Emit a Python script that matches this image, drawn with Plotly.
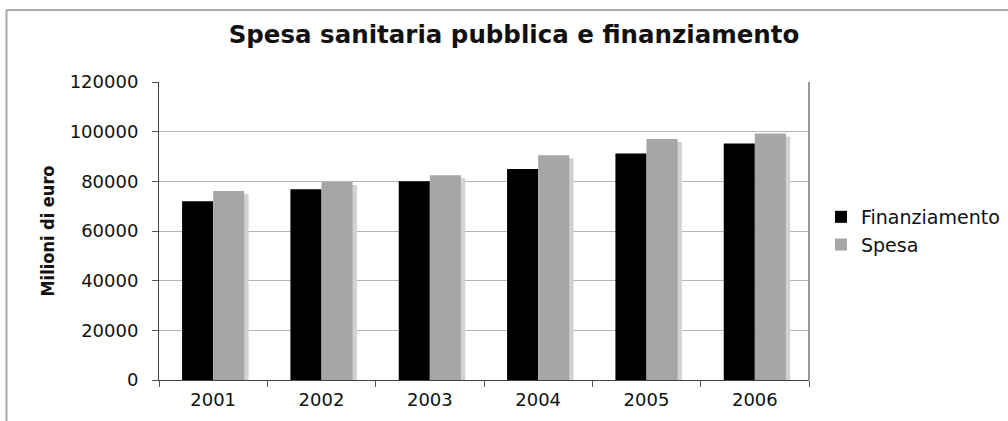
import plotly.graph_objects as go

# Spesa sanitaria pubblica e finanziamento (milioni di euro)
anni = ["2001", "2002", "2003", "2004", "2005", "2006"]
finanziamento = [72000, 76800, 80000, 85000, 91200, 95200]
spesa = [76100, 79700, 82400, 90500, 97000, 99300]
y_ticks = [0, 20000, 40000, 60000, 80000, 100000, 120000]

W, H = 1008, 421
L, R, T, B = 159, 199, 82, 41
plot_w = W - L - R
plot_h = H - T - B

BLACK = "#000000"
GREY = "#a6a6a6"
SHADOW = "#d2d2d2"
GRID = "#b4b4b4"
TXT = "#111111"
FONT = "DejaVu Sans, Verdana, sans-serif"

BAR_W = 0.287
SHADOW_DROP = 1200  # drop-shadow sits slightly lower than the bar it follows

fig = go.Figure()

# soft drop shadow behind the Spesa bars
fig.add_trace(go.Bar(
    x=anni, y=spesa, base=[-SHADOW_DROP] * len(spesa),
    offset=0.04, width=BAR_W,
    marker=dict(color=SHADOW, line=dict(width=0)),
    showlegend=False, hoverinfo="skip",
))
fig.add_trace(go.Bar(
    x=anni, y=finanziamento, name="Finanziamento",
    offset=-BAR_W, width=BAR_W,
    marker=dict(color=BLACK, line=dict(width=0)),
))
fig.add_trace(go.Bar(
    x=anni, y=spesa, name="Spesa",
    offset=0.0, width=BAR_W,
    marker=dict(color=GREY, line=dict(width=0)),
))

# page frame (top and left edges) and the right edge of the plot area
shapes = [
    dict(type="line", xref="paper", yref="paper",
         x0=(6 - L) / plot_w, x1=(W + 5 - L) / plot_w,
         y0=(H - B - 10) / plot_h, y1=(H - B - 10) / plot_h,
         line=dict(color="#ababab", width=2)),
    dict(type="line", xref="paper", yref="paper",
         x0=(6.5 - L) / plot_w, x1=(6.5 - L) / plot_w,
         y0=(H - B - 10) / plot_h, y1=(-B - 5) / plot_h,
         line=dict(color="#ababab", width=2)),
    dict(type="line", xref="paper", yref="paper",
         x0=1, x1=1, y0=0, y1=1,
         line=dict(color="#9a9a9a", width=2)),
]

fig.update_layout(
    width=W, height=H,
    margin=dict(l=L, r=R, t=T, b=B, pad=0, autoexpand=False),
    paper_bgcolor="white", plot_bgcolor="white",
    barmode="overlay",
    title=dict(
        text="<b>Spesa sanitaria pubblica e finanziamento</b>",
        font=dict(family=FONT, size=24.5, color=TXT),
        x=514 / W, xanchor="center", xref="container",
        y=1 - 34 / H, yanchor="middle", yref="container",
    ),
    legend=dict(
        xref="container", yref="container",
        x=821 / W, xanchor="left",
        y=1 - 231 / H, yanchor="middle",
        font=dict(family=FONT, size=19, color=TXT),
        bgcolor="rgba(0,0,0,0)", tracegroupgap=0,
        itemwidth=30,
    ),
    xaxis=dict(
        type="category",
        range=[-0.5, 5.5],
        tickson="boundaries",
        ticks="outside", ticklen=6, tickcolor="#555555",
        showline=True, linecolor="#444444", linewidth=1,
        showgrid=False,
        tickfont=dict(family=FONT, size=18, color=TXT),
        ticklabelstandoff=3,
    ),
    yaxis=dict(
        range=[0, 120000],
        tickvals=y_ticks,
        ticktext=[str(v) for v in y_ticks],
        ticks="outside", ticklen=6, tickcolor="#555555",
        showline=True, linecolor="#444444", linewidth=1,
        showgrid=True, gridcolor=GRID, gridwidth=1,
        zeroline=False,
        tickfont=dict(family=FONT, size=18, color=TXT),
        ticklabelstandoff=10,
        title=dict(
            text="<b>Milioni di euro</b>",
            font=dict(family="DejaVu Sans Condensed, Liberation Sans Narrow, sans-serif",
                      size=18, color=TXT),
            standoff=10,
        ),
    ),
    shapes=shapes,
    showlegend=True,
)

fig.write_html("out.html")
